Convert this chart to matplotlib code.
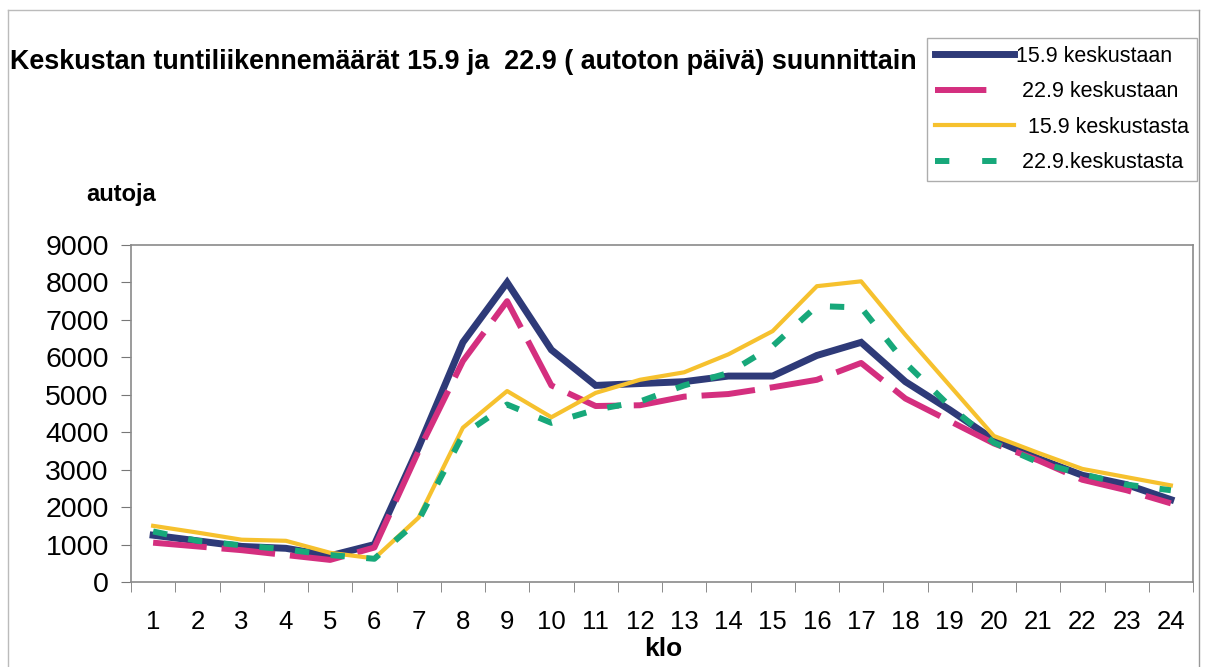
import matplotlib

matplotlib.use("Agg")
import matplotlib.pyplot as plt  # noqa: E402
from matplotlib.lines import Line2D  # noqa: E402

plt.rcParams["font.family"] = ["Liberation Sans", "DejaVu Sans"]

# tunnit (klo) ja tuntiliikennemäärät suunnittain
hours = list(range(1, 25))
in_159 = [1250, 1100, 950, 900, 700, 1000, 3600, 6400, 8000, 6200, 5250, 5300,
          5350, 5500, 5500, 6050, 6400, 5350, 4600, 3800, 3300, 2850, 2600, 2200]
in_229 = [1050, 950, 850, 720, 590, 920, 3500, 5900, 7500, 5250, 4700, 4720,
          4950, 5020, 5200, 5400, 5850, 4900, 4300, 3700, 3250, 2730, 2450, 2100]
out_159 = [1500, 1320, 1130, 1100, 780, 630, 1720, 4120, 5100, 4400, 5050, 5400,
           5600, 6080, 6700, 7900, 8030, 6600, 5250, 3900, 3450, 3020, 2800, 2580]
out_229 = [1350, 1100, 980, 870, 720, 620, 1650, 3930, 4740, 4250, 4600, 4820,
           5250, 5580, 6300, 7370, 7330, 5850, 4700, 3720, 3200, 2880, 2600, 2450]

NAVY, PINK, YELLOW, GREEN = "#2e3a78", "#d42f7f", "#f6c12e", "#17a87a"

fig = plt.figure(figsize=(12.06, 6.67), dpi=100)
ax = fig.add_axes([131 / 1206, 1 - 582 / 667, (1193 - 131) / 1206, (582 - 245) / 667])

ax.plot(hours, in_159, color=NAVY, lw=5, solid_joinstyle="miter", zorder=3)
ax.plot(hours, in_229, color=PINK, lw=4.3, dashes=(9, 2.5), zorder=4)
ax.plot(hours, out_159, color=YELLOW, lw=3, zorder=5)
ax.plot(hours, out_229, color=GREEN, lw=4.3, dashes=(2.4, 3.6), zorder=6)

ax.set_xlim(0.5, 24.5)
ax.set_ylim(0, 9000)
ax.set_yticks(range(0, 9001, 1000))
ax.set_xticks(hours)
ax.set_xticks([h + 0.5 for h in range(0, 25)], minor=True)
ax.tick_params(axis="x", which="major", length=0, labelsize=18.5, pad=20)
ax.tick_params(axis="x", which="minor", length=7, color="#777777", direction="out")
ax.tick_params(axis="y", length=7, color="#777777", labelsize=20.5, pad=9)
for s in ax.spines.values():
    s.set_color("#8a8a8a")
    s.set_linewidth(1.2)

fig.text(10 / 1206, 1 - 62 / 667, "Keskustan tuntiliikennemäärät 15.9 ja  22.9 ( autoton päivä) suunnittain",
         fontsize=19.4, fontweight="bold", ha="left", va="center")
fig.text(86 / 1206, 1 - 195 / 667, "autoja", fontsize=17, fontweight="bold", ha="left", va="center")
fig.text(663 / 1206, 1 - 649 / 667, "klo", fontsize=19, fontweight="bold", ha="center", va="center")

# legend
handles = [
    Line2D([], [], color=NAVY, lw=5),
    Line2D([], [], color=PINK, lw=4.3, dashes=(8.6, 6)),
    Line2D([], [], color=YELLOW, lw=3),
    Line2D([], [], color=GREEN, lw=4.3, dashes=(2.4, 5.5)),
]
labels = ["15.9 keskustaan", " 22.9 keskustaan", "  15.9 keskustasta", " 22.9.keskustasta"]
leg = fig.legend(handles, labels, loc="upper left", bbox_to_anchor=(927 / 1206, 1 - 38 / 667),
                 fontsize=15.5, frameon=True, fancybox=False, handlelength=3.7, handletextpad=0.1,
                 borderpad=0.35, labelspacing=0.68, borderaxespad=0)
leg.get_frame().set_edgecolor("#999999")
leg.get_frame().set_linewidth(1.0)

# outer chart frame
fig.add_artist(Line2D([8 / 1206, 8 / 1206], [0, 1 - 10 / 667], color="#bbbbbb", lw=1))
fig.add_artist(Line2D([8 / 1206, 1199 / 1206], [1 - 10 / 667, 1 - 10 / 667], color="#bbbbbb", lw=1))
fig.add_artist(Line2D([1199 / 1206, 1199 / 1206], [0, 1 - 10 / 667], color="#999999", lw=1))

fig.savefig("out.png", dpi=100)
